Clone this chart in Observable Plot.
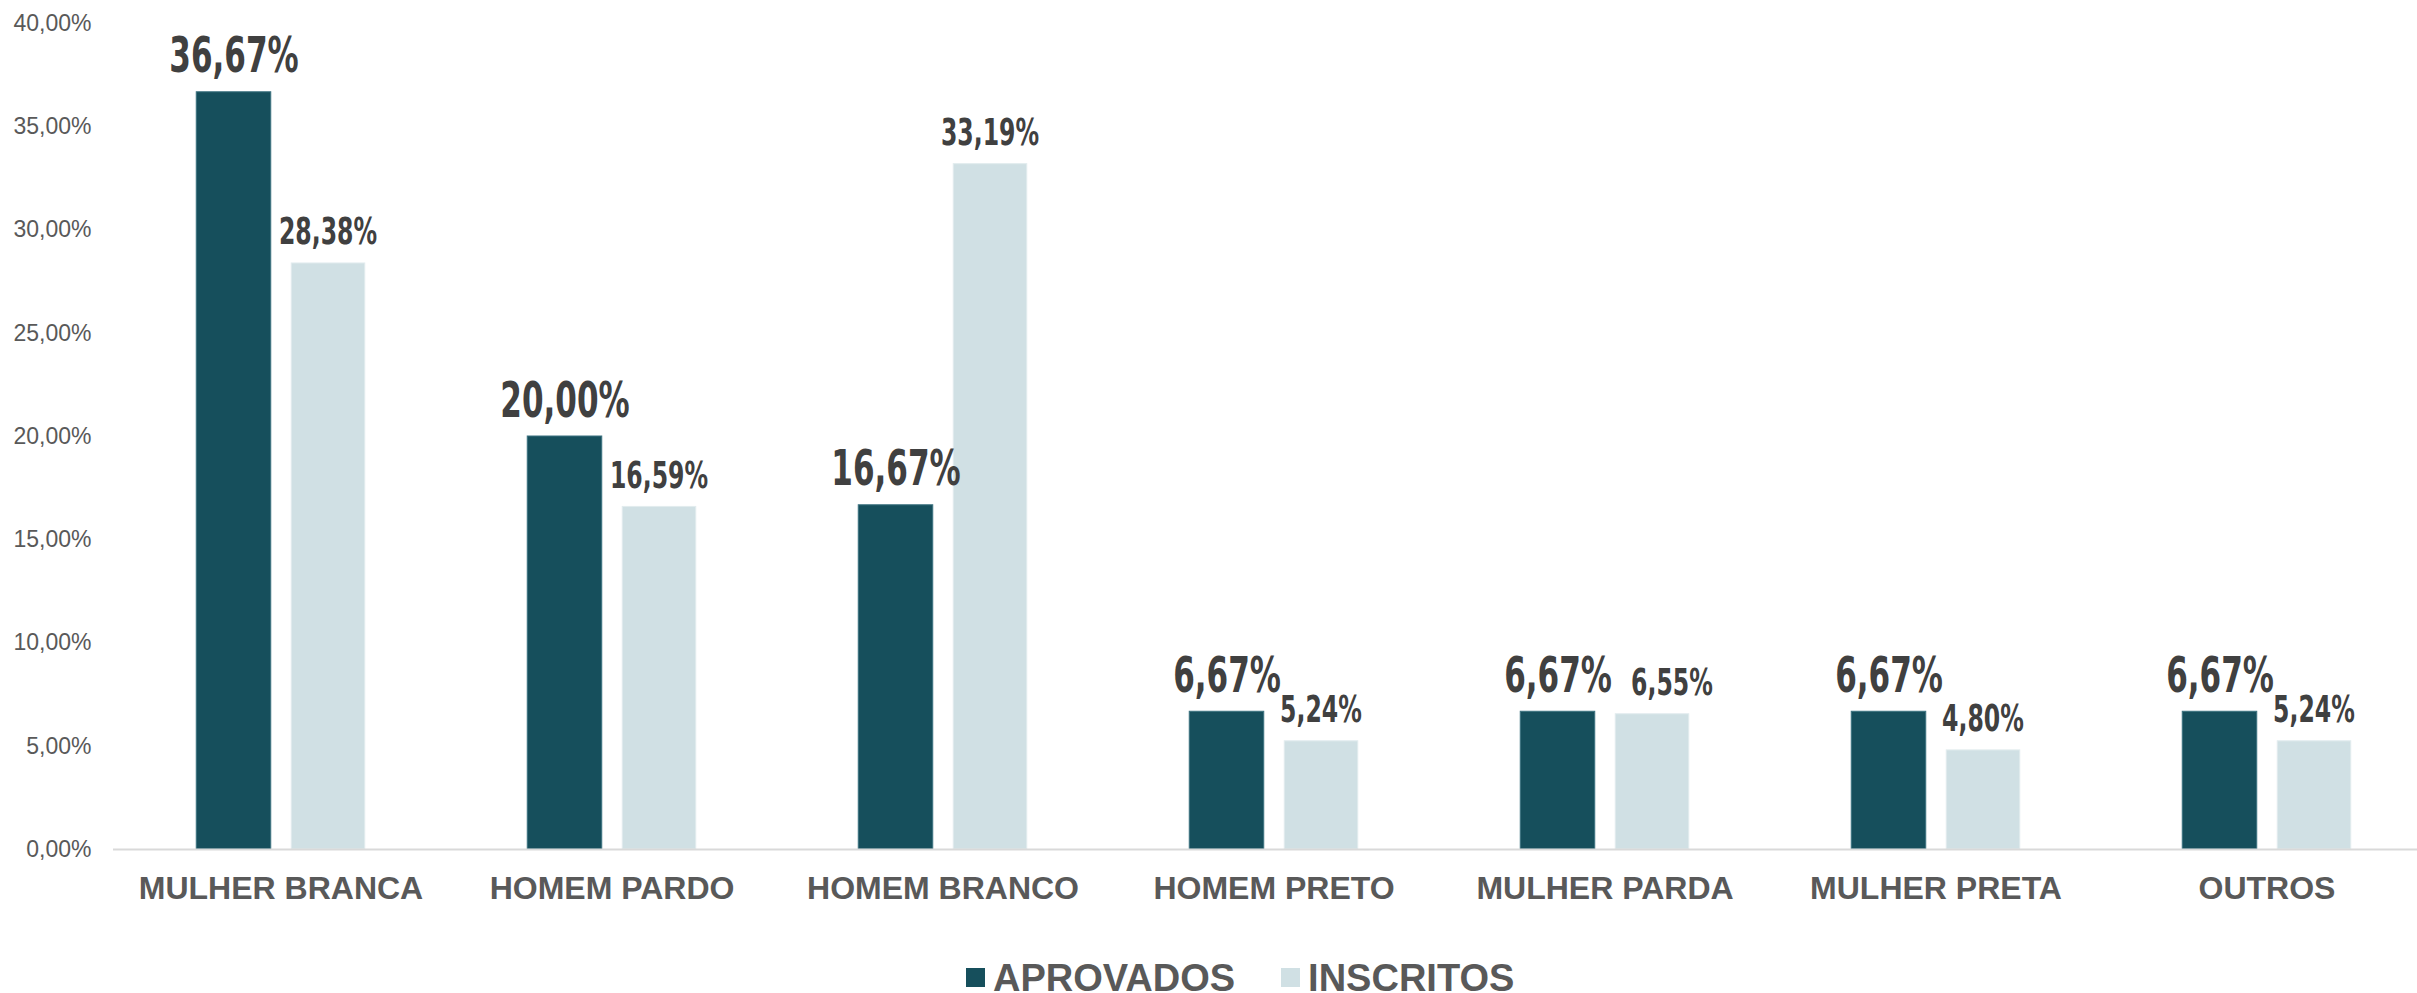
<!DOCTYPE html>
<html><head><meta charset="utf-8">
<script src="https://cdn.jsdelivr.net/npm/d3@7"></script>
<script src="https://cdn.jsdelivr.net/npm/@observablehq/plot@0.6"></script>
<style>
html,body{margin:0;padding:0;background:#fff;overflow:hidden;width:2417px;height:993px}
#chart{position:relative;width:2417px;height:993px}
#legend{position:absolute;left:966px;top:959px;display:flex;font-family:'Liberation Sans',Arial,sans-serif;font-weight:bold;font-size:38px;line-height:38px;color:#595959;white-space:nowrap}
#legend .item{display:inline-block;margin-right:46px}
#legend .sw{display:inline-block;width:19px;height:19px;margin-right:8px;vertical-align:4px}
</style></head><body><div id="chart"></div><script>
const categories = ["MULHER BRANCA","HOMEM PARDO","HOMEM BRANCO","HOMEM PRETO","MULHER PARDA","MULHER PRETA","OUTROS"];
const aprovados = [36.67, 20.00, 16.67, 6.67, 6.67, 6.67, 6.67];
const inscritos = [28.38, 16.59, 33.19, 5.24, 6.55, 4.80, 5.24];
const yTicks = [0, 5, 10, 15, 20, 25, 30, 35, 40];
const seriesNames = ["APROVADOS", "INSCRITOS"];
const seriesColors = ["#164F5C", "#D0E0E4"];

const rows = categories.map((c, i) => ({categoria: c, aprovados: aprovados[i], inscritos: inscritos[i]}));
const fmt = v => v.toFixed(2).replace(".", ",") + "%";
const labelFont = "'DejaVu Sans Condensed','DejaVu Sans',sans-serif";
// one inscritos label sits nudged to the right in the reference to clear its neighbour
const nudged = d => d.categoria === "MULHER PARDA";

const lightLabel = (filter, dx) => Plot.text(rows, {filter, x: "categoria", y: "inscritos", text: d => fmt(d.inscritos), dx, dy: -19, lineAnchor: "bottom", fontSize: 38, fontWeight: "bold", fontFamily: labelFont, fill: "#404040", className: "vlabel"});

const chart = Plot.plot({
  width: 2417,
  height: 940,
  marginLeft: 113,
  marginRight: 0,
  marginTop: 23,
  marginBottom: 91,
  style: {fontFamily: "'Liberation Sans', Arial, sans-serif", color: "#595959", background: "#fff", overflow: "visible"},
  x: {domain: categories, range: [112.75, 2433.25], padding: 0, label: null},
  y: {domain: [0, 40], label: null},
  marks: [
    Plot.barY(rows, {x: "categoria", y: "aprovados", fill: seriesColors[0], stroke: "#3d7380", strokeWidth: 1, insetLeft: 81.25, insetRight: 175.25}),
    Plot.barY(rows, {x: "categoria", y: "inscritos", fill: seriesColors[1], stroke: "#e2ecee", strokeWidth: 1, insetLeft: 176.25, insetRight: 81.25}),
    Plot.ruleY([0], {stroke: "#d9d9d9", strokeWidth: 2}),
    Plot.text(rows, {x: "categoria", y: "aprovados", text: d => fmt(d.aprovados), dx: -47, dy: -20, lineAnchor: "bottom", fontSize: 50, fontWeight: "bold", fontFamily: labelFont, fill: "#404040", className: "vlabel"}),
    lightLabel(d => !nudged(d), 47),
    lightLabel(nudged, 67),
    Plot.axisY({ticks: yTicks, tickFormat: d => fmt(d), tickSize: 0, tickPadding: 22, fontSize: 23, fill: "#595959", label: null}),
    Plot.axisX({tickSize: 0, tickPadding: 27, fontSize: 32, fontWeight: "bold", fill: "#595959", label: null})
  ]
});
const root = document.getElementById("chart");
root.appendChild(chart);

// condense the value labels (the reference uses a condensed display face)
chart.querySelectorAll(".vlabel text").forEach(t => {
  const w = t.getComputedTextLength();
  t.setAttribute("textLength", (w * 0.69).toFixed(1));
  t.setAttribute("lengthAdjust", "spacingAndGlyphs");
});

const legend = document.createElement("div");
legend.id = "legend";
seriesNames.forEach((name, i) => {
  const item = document.createElement("span");
  item.className = "item";
  const sw = document.createElement("span");
  sw.className = "sw";
  sw.style.background = seriesColors[i];
  item.appendChild(sw);
  item.appendChild(document.createTextNode(name));
  legend.appendChild(item);
});
root.appendChild(legend);
</script></body></html>
